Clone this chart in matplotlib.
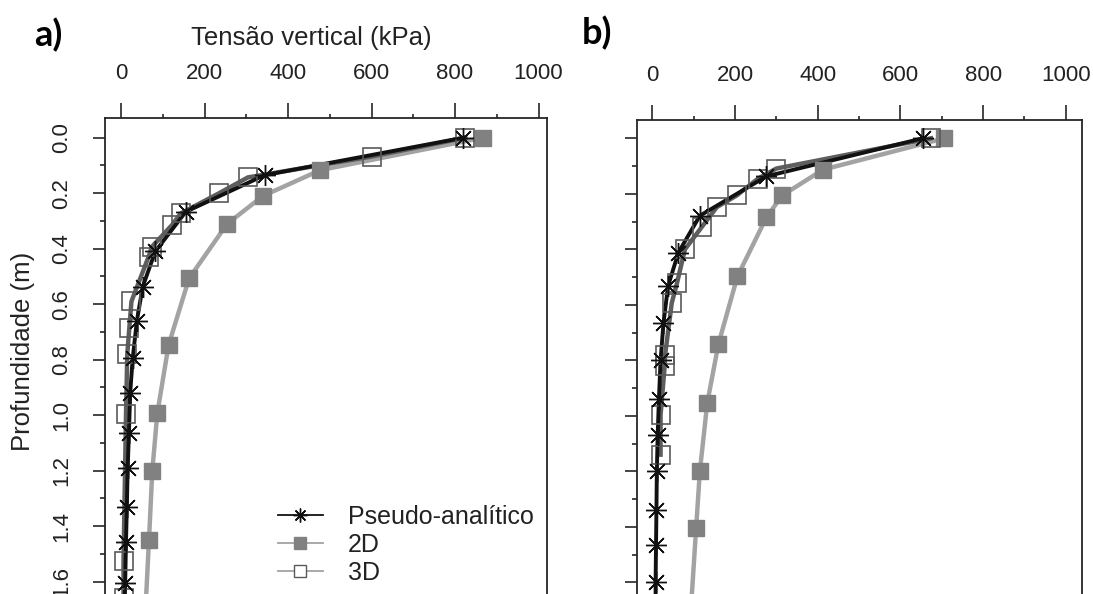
import matplotlib
matplotlib.use("Agg")
import matplotlib.pyplot as plt
from matplotlib.lines import Line2D
from matplotlib.ticker import MultipleLocator, FormatStrFormatter

# ---------------- data ----------------
# Panel a)
a_pseudo_depth = [0.0, 0.135, 0.267, 0.41, 0.537, 0.66, 0.795, 0.92, 1.065, 1.19, 1.33, 1.456, 1.605, 1.66]
a_pseudo_val = [820, 344, 155, 82, 52, 38, 28, 22, 19, 16, 14, 12, 10, 9]
a_2d_depth = [0.0, 0.117, 0.21, 0.311, 0.507, 0.747, 0.993, 1.2, 1.45, 1.66]
a_2d_val = [867, 477, 340, 254, 163, 114, 87, 75, 67, 60]
a_3d_depth = [0.0, 0.068, 0.143, 0.2, 0.273, 0.315, 0.393, 0.429, 0.59, 0.685, 0.78, 0.995, 1.525, 1.66]
a_3d_val = [825, 600, 304, 235, 143, 122, 74, 66, 25, 20, 15, 12, 6, 6]

# Panel b)
b_pseudo_depth = [0.0, 0.137, 0.279, 0.412, 0.533, 0.667, 0.8, 0.94, 1.07, 1.2, 1.34, 1.465, 1.6, 1.66]
b_pseudo_val = [654, 276, 115, 63, 38, 27, 20, 16, 13, 11, 10, 9, 8, 8]
b_2d_depth = [0.0, 0.113, 0.206, 0.285, 0.497, 0.741, 0.953, 1.2, 1.405, 1.66]
b_2d_val = [706, 413, 314, 276, 206, 160, 133, 115, 106, 95]
b_3d_depth = [0.0, 0.109, 0.145, 0.206, 0.248, 0.321, 0.4, 0.52, 0.594, 0.78, 0.82, 0.997, 1.14]
b_3d_val = [674, 300, 256, 204, 156, 119, 79, 60, 47, 31, 30, 20, 20]

x_ticks = [0, 200, 400, 600, 800, 1000]
y_ticks = [0.0, 0.2, 0.4, 0.6, 0.8, 1.0, 1.2, 1.4, 1.6]
series_labels = ["Pseudo-analítico", "2D", "3D"]
panel_labels = ["a)", "b)"]
x_title = "Tensão vertical (kPa)"
y_title = "Profundidade (m)"

# ---------------- styling ----------------
plt.rcParams["font.family"] = ["Liberation Sans", "DejaVu Sans"]
W, H = 1093, 594
fig = plt.figure(figsize=(W / 100, H / 100), dpi=100)

C_PSEUDO = "#111111"
C_2D_LINE = "#a3a3a3"
C_2D_MARK = "#818181"
C_3D_LINE = "#5e5e5e"
C_3D_MARK = "#5a5a5a"
C_AX = "#262626"
STAR = (8, 2, 0)


def make_axes(left_px, right_px, top_px, bottom_px, x0_px, px_per_kpa, y0_px, px_per_m):
    ax = fig.add_axes([left_px / W, 1 - bottom_px / H,
                       (right_px - left_px) / W, (bottom_px - top_px) / H])
    ax.set_xlim((left_px - x0_px) / px_per_kpa, (right_px - x0_px) / px_per_kpa)
    ax.set_ylim((bottom_px - y0_px) / px_per_m, (top_px - y0_px) / px_per_m)
    return ax


def draw(ax, pd, pv, d2, v2, d3, v3):
    ax.plot(v2, d2, color=C_2D_LINE, lw=3.2, zorder=2, solid_capstyle="butt")
    ax.plot(v3, d3, color=C_3D_LINE, lw=3.2, zorder=3)
    ax.plot(pv, pd, color=C_PSEUDO, lw=2.8, zorder=4)
    ax.plot(v2[:-1], d2[:-1], ls="none", marker="s", ms=12, mfc=C_2D_MARK,
            mec=C_2D_MARK, zorder=5)
    ax.plot(v3, d3, ls="none", marker="s", ms=13, mfc="none", mec=C_3D_MARK,
            mew=1.2, zorder=6)
    ax.plot(pv[:-1], pd[:-1], ls="none", marker=STAR, ms=15, mec=C_PSEUDO,
            mew=1.0, zorder=7)


def style(ax, show_ylabels):
    for s in ["left", "right", "top"]:
        ax.spines[s].set_color(C_AX)
        ax.spines[s].set_linewidth(1.3)
    ax.spines["bottom"].set_visible(False)
    ax.xaxis.set_ticks_position("top")
    ax.xaxis.set_label_position("top")
    ax.set_xticks(x_ticks)
    ax.xaxis.set_minor_locator(MultipleLocator(100))
    ax.set_yticks(y_ticks)
    ax.yaxis.set_minor_locator(MultipleLocator(0.1))
    ax.yaxis.set_major_formatter(FormatStrFormatter("%.1f"))
    ax.tick_params(axis="x", which="major", direction="out", length=10.5, width=1.2,
                   colors=C_AX, labelsize=16, pad=14, labelcolor="#222222")
    ax.tick_params(axis="x", which="minor", direction="out", length=3, width=1.2,
                   colors=C_AX)
    ax.tick_params(axis="y", which="major", direction="out", length=8.6, width=1.2,
                   colors=C_AX, labelsize=16, pad=15, labelcolor="#222222",
                   labelleft=show_ylabels)
    ax.tick_params(axis="y", which="minor", direction="out", length=3.6, width=1.2,
                   colors=C_AX)
    if show_ylabels:
        for lab in ax.get_yticklabels():
            lab.set_rotation(90)
            lab.set_va("center")
            lab.set_ha("right")


# Panel a
ax_a = make_axes(105, 546.7, 118, 640, 121, 0.4175, 137.7, 277.5)
draw(ax_a, a_pseudo_depth, a_pseudo_val, a_2d_depth, a_2d_val, a_3d_depth, a_3d_val)
style(ax_a, True)

# Panel b
ax_b = make_axes(636.7, 1081.7, 120, 640, 652.3, 0.4135, 138.3, 277.5)
draw(ax_b, b_pseudo_depth, b_pseudo_val, b_2d_depth, b_2d_val, b_3d_depth, b_3d_val)
style(ax_b, False)

# Titles / labels
fig.text(311 / W, 1 - 38 / H, x_title, fontsize=18.5, ha="center", va="center",
         color="#222222")
fig.text(23 / W, 1 - 351 / H, y_title, fontsize=18.5, ha="center", va="center",
         rotation=90, color="#222222")
fig.text(34 / W, 1 - 46 / H, panel_labels[0], fontsize=26, fontweight="bold",
         family=["Lato", "DejaVu Sans"], ha="left", va="baseline")
fig.text(582 / W, 1 - 44 / H, panel_labels[1], fontsize=26, fontweight="bold",
         family=["Lato", "DejaVu Sans"], ha="left", va="baseline")

# Legend
handles = [
    Line2D([], [], color=C_PSEUDO, lw=1.3, marker=STAR, ms=10, mec=C_PSEUDO, mew=1.0),
    Line2D([], [], color=C_2D_LINE, lw=1.3, marker="s", ms=8, mfc=C_2D_MARK, mec=C_2D_MARK),
    Line2D([], [], color=C_2D_LINE, lw=1.3, marker="s", ms=8, mfc="white", mec=C_3D_MARK,
           mew=1.0),
]
ax_a.legend(handles, series_labels, loc="upper left",
            bbox_to_anchor=(278 / W, 1 - 505 / H), bbox_transform=fig.transFigure,
            frameon=False, fontsize=18, handlelength=1.8, handletextpad=1.0,
            labelspacing=0.16, borderpad=0, borderaxespad=0, labelcolor="#222222")

fig.savefig("out.png", dpi=100)
